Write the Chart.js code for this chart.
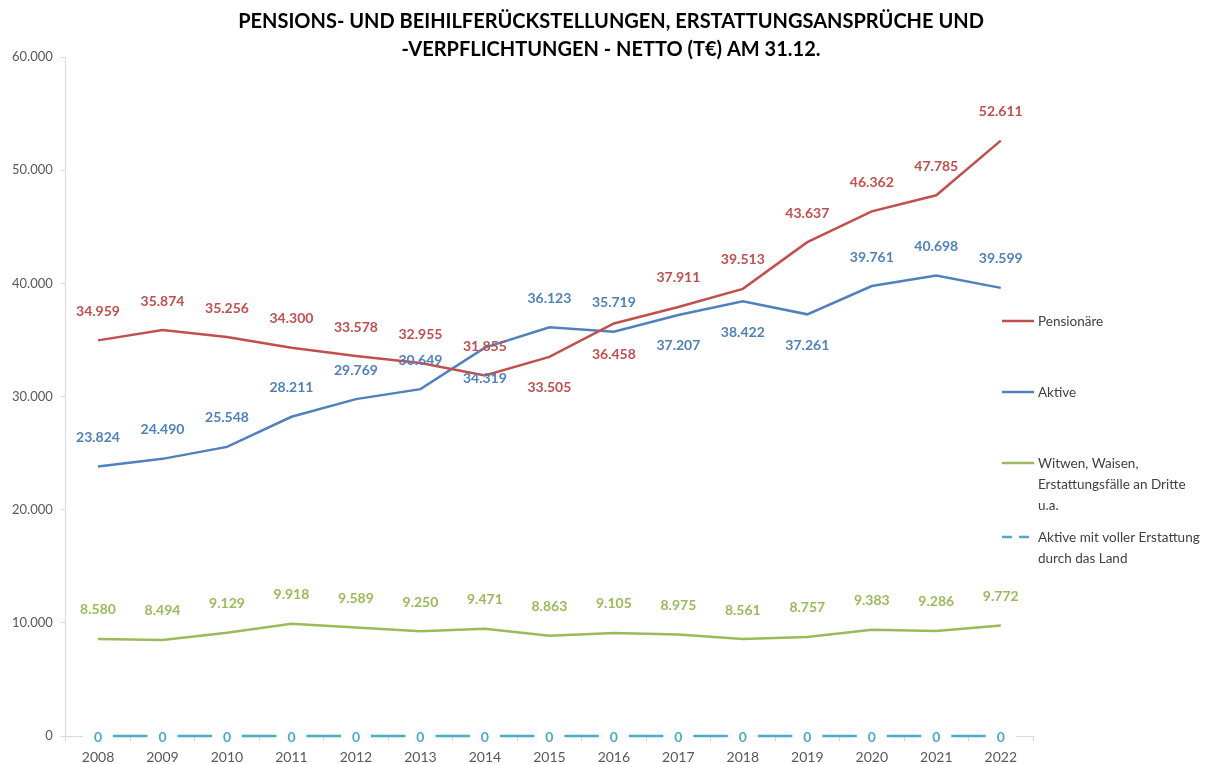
<!DOCTYPE html>
<html>
<head>
<meta charset="utf-8">
<script src="https://cdn.jsdelivr.net/npm/chart.js@4.4.1/dist/chart.umd.min.js"></script>
<style>
  html, body { margin: 0; padding: 0; background: #fff; }
  #wrap { width: 1212px; height: 764px; position: relative; }
</style>
</head>
<body>
<div id="wrap"><canvas id="chart" width="1212" height="764"></canvas></div>
<script>
// -------------------------
// DATA
// -------------------------
const years = ["2008","2009","2010","2011","2012","2013","2014","2015","2016","2017","2018","2019","2020","2021","2022"];
const pensionaere = [34959, 35874, 35256, 34300, 33578, 32955, 31855, 33505, 36458, 37911, 39513, 43637, 46362, 47785, 52611];
const aktive = [23824, 24490, 25548, 28211, 29769, 30649, 34319, 36123, 35719, 37207, 38422, 37261, 39761, 40698, 39599];
const witwen = [8580, 8494, 9129, 9918, 9589, 9250, 9471, 8863, 9105, 8975, 8561, 8757, 9383, 9286, 9772];
const aktiveVoll = [0, 0, 0, 0, 0, 0, 0, 0, 0, 0, 0, 0, 0, 0, 0];
const yTicks = [0, 10000, 20000, 30000, 40000, 50000, 60000];

// label placement per point: 1 = above, -1 = below, 0 = centred on point
const posPens = [1,1,1,1,1,1,1,-1,-1,1,1,1,1,1,1];
const posAkt = [1,1,1,1,1,1,-1,1,1,-1,-1,-1,1,1,1];
const posWit = [1,1,1,1,1,1,1,1,1,1,1,1,1,1,1];
const posVoll = [0,0,0,0,0,0,0,0,0,0,0,0,0,0,0];

const FONT = "Lato, 'Open Sans', sans-serif";
const colRed = "#C0504D", colBlue = "#4F81BD", colGreen = "#9BBB59", colCyan = "#4BACC6";

// -------------------------
// Helpers
// -------------------------
function fmt(v) {
  return String(Math.round(v)).replace(/\B(?=(\d{3})+(?!\d))/g, ".");
}

const labelPlugin = {
  id: "pointLabels",
  afterDatasetsDraw(chart) {
    const ctx = chart.ctx;
    ctx.save();
    ctx.font = "bold 14px " + FONT;
    ctx.textAlign = "center";
    ctx.textBaseline = "middle";
    chart.data.datasets.forEach((ds, i) => {
      const meta = chart.getDatasetMeta(i);
      meta.data.forEach((pt, j) => {
        const p = ds.labelPos[j];
        const y = pt.y - p * 30;
        if (p === 0) {
          ctx.fillStyle = "#fff";
          ctx.fillRect(pt.x - 15, y - 7, 30, 14);
        }
        ctx.fillStyle = ds.borderColor;
        ctx.fillText(fmt(ds.data[j]), pt.x, y + 1);
      });
    });
    ctx.restore();
  }
};

const titleLegendPlugin = {
  id: "titleLegend",
  afterDraw(chart) {
    const ctx = chart.ctx;
    ctx.save();
    // title
    ctx.font = "bold 20px " + FONT;
    ctx.fillStyle = "#000";
    ctx.textAlign = "center";
    ctx.textBaseline = "middle";
    ctx.fillText("PENSIONS- UND BEIHILFERÜCKSTELLUNGEN, ERSTATTUNGSANSPRÜCHE UND", 611, 22);
    ctx.fillText("-VERPFLICHTUNGEN - NETTO (T€) AM 31.12.", 611, 50);
    // legend
    const items = [
      { color: colRed, lines: ["Pensionäre"], y: 321, dash: false },
      { color: colBlue, lines: ["Aktive"], y: 392, dash: false },
      { color: colGreen, lines: ["Witwen, Waisen,", "Erstattungsfälle an Dritte", "u.a."], y: 463, dash: false },
      { color: colCyan, lines: ["Aktive mit voller Erstattung", "durch das Land"], y: 537, dash: true }
    ];
    ctx.font = "13.5px " + FONT;
    ctx.textAlign = "left";
    items.forEach(it => {
      ctx.strokeStyle = it.color;
      ctx.lineWidth = 2.5;
      ctx.setLineDash(it.dash ? [10, 7] : []);
      ctx.beginPath();
      ctx.moveTo(1002, it.y);
      ctx.lineTo(1034, it.y);
      ctx.stroke();
      ctx.fillStyle = "#404040";
      it.lines.forEach((t, k) => ctx.fillText(t, 1038, it.y + 1 + k * 21));
    });
    ctx.restore();
  }
};

// -------------------------
// Chart
// -------------------------
const mkSet = (label, data, color, pos) => ({
  label, data, labelPos: pos,
  borderColor: color, backgroundColor: color,
  borderWidth: 2.5, pointRadius: 0, tension: 0, fill: false, clip: false
});

new Chart(document.getElementById("chart"), {
  type: "line",
  data: {
    labels: years,
    datasets: [
      mkSet("Pensionäre", pensionaere, colRed, posPens),
      mkSet("Aktive", aktive, colBlue, posAkt),
      mkSet("Witwen, Waisen, Erstattungsfälle an Dritte u.a.", witwen, colGreen, posWit),
      mkSet("Aktive mit voller Erstattung durch das Land", aktiveVoll, colCyan, posVoll)
    ]
  },
  options: {
    responsive: false,
    animation: false,
    layout: { padding: { top: 57, right: 179, left: 4, bottom: 0 } },
    plugins: { legend: { display: false }, title: { display: false }, tooltip: { enabled: false } },
    scales: {
      x: {
        offset: true,
        afterFit: s => { s.height = 28; },
        grid: { offset: true, drawOnChartArea: false, color: "#d9d9d9", tickLength: 5 },
        border: { color: "#d9d9d9" },
        ticks: { color: "#595959", font: { family: FONT, size: 14 }, padding: 8, maxRotation: 0, autoSkip: false }
      },
      y: {
        min: 0, max: 60000,
        afterBuildTicks: axis => { axis.ticks = yTicks.map(v => ({ value: v })); },
        grid: { drawOnChartArea: false, color: "#d9d9d9", tickLength: 5 },
        border: { color: "#d9d9d9" },
        ticks: { color: "#595959", font: { family: FONT, size: 13 }, padding: 8, callback: v => fmt(v) }
      }
    }
  },
  plugins: [labelPlugin, titleLegendPlugin]
});
</script>
</body>
</html>
